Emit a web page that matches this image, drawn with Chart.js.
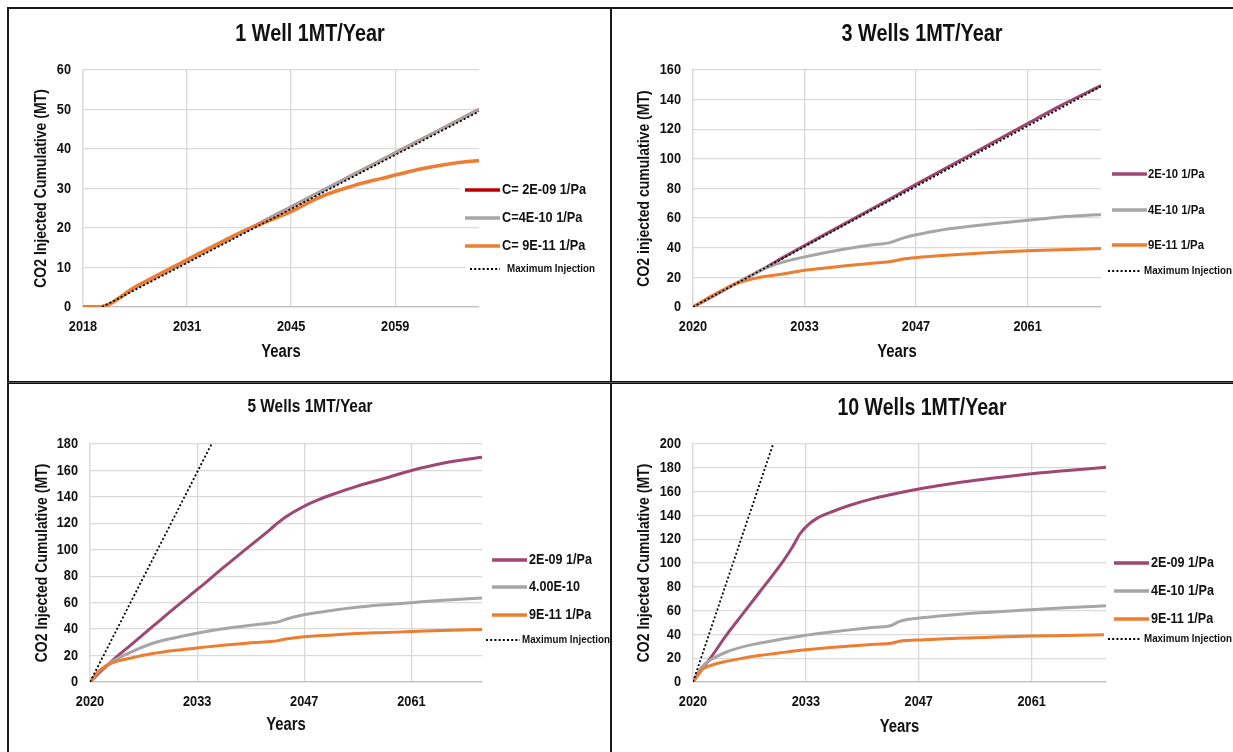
<!DOCTYPE html>
<html>
<head>
<meta charset="utf-8">
<script src="https://cdn.jsdelivr.net/npm/chart.js@4.4.0/dist/chart.umd.min.js"></script>
<style>
html, body { margin: 0; padding: 0; background: #fff; }
#page { position: relative; width: 1233px; height: 752px; overflow: hidden; background: #fff; }
canvas { position: absolute; }
.rule { position: absolute; background: #1a1a1a; }
</style>
</head>
<body>
<div id="page">
  <canvas id="c1" width="601" height="372" style="left:9px;top:9px"></canvas>
  <canvas id="c2" width="621" height="372" style="left:612px;top:9px"></canvas>
  <canvas id="c3" width="601" height="369" style="left:9px;top:383px"></canvas>
  <canvas id="c4" width="621" height="369" style="left:612px;top:383px"></canvas>
  <div class="rule" style="left:7px;top:7px;width:1226px;height:2px"></div>
  <div class="rule" style="left:7px;top:7px;width:2px;height:745px"></div>
  <div class="rule" style="left:610px;top:7px;width:2px;height:745px"></div>
  <div class="rule" style="left:7px;top:381px;width:1226px;height:3px;background:#555;border-top:1px solid #111;border-bottom:1px solid #111;box-sizing:border-box"></div>
</div>
<script>
// ---- 1 well ----
const years1 = [2018, 2020, 2025, 2030, 2035, 2040, 2043, 2045, 2048, 2050, 2053, 2056, 2059, 2062, 2065, 2068, 2070];
const w1_2e09 = [0, 0, 5, 10, 15, 20, 23, 25, 28, 30, 33, 36, 39, 42, 45, 48, 50];
const w1_4e10 = [0, 0, 5, 10, 15, 20, 23, 25, 28, 30, 33, 36, 39, 42, 45, 48, 50];
const w1_9e11 = [0, 0, 5.2, 10.3, 15.3, 20, 22.3, 23.9, 26.8, 28.5, 30.4, 32, 33.4, 34.8, 35.9, 36.7, 37.1];
const w1_maxYears = [2020.5, 2070];
const w1_max = [0, 49.5];
const w1_tickYears = [2018, 2031.67, 2045.33, 2059];
const w1_tickLabels = ['2018', '2031', '2045', '2059'];

// ---- 3 wells ----
const years3 = [2020, 2022, 2024, 2025, 2027, 2029, 2031, 2033, 2036, 2039, 2042, 2044, 2046, 2048, 2051, 2054, 2057, 2061, 2065, 2070];
const w3_2e10 = [0, 6, 12, 15, 21, 27, 33.3, 39.5, 48.5, 57.5, 66.5, 72.5, 78.7, 84.8, 93.8, 102.8, 111.8, 123.8, 135.8, 149.5];
const w3_4e10 = [0, 6.5, 12.5, 15.3, 21, 26.5, 30.3, 33, 36.5, 39.5, 42, 43.3, 47, 49.5, 52.5, 54.5, 56.3, 58.5, 60.8, 62.5];
const w3_9e11 = [0, 6.5, 12.5, 15.3, 18.6, 20.7, 22.3, 24.2, 26.2, 28, 29.5, 30.5, 32.5, 33.7, 35, 36, 36.9, 37.9, 38.7, 39.5];
const w3_maxYears = [2020, 2070];
const w3_max = [0, 149];
const w3_tickYears = [2020, 2033.67, 2047.33, 2061];
const w3_tickLabels = ['2020', '2033', '2047', '2061'];

// ---- 5 wells ----
const years5 = [2020, 2021, 2022, 2023, 2025, 2028, 2031, 2034, 2037, 2040, 2043, 2044, 2045, 2047, 2049, 2051, 2054, 2057, 2061, 2065, 2070];
const w5_2e09 = [0, 6, 11.5, 17, 27, 42, 57, 71.5, 86.5, 101, 115.5, 120.5, 125, 132, 137.5, 142, 148, 153, 160, 165.5, 170];
const w5_4e10 = [0, 7, 12, 16, 22, 29.3, 33.7, 37.3, 40.2, 42.6, 44.6, 45.5, 47.5, 50.5, 52.5, 54.3, 56.5, 58.2, 60, 61.8, 63.5];
const w5_9e11 = [0, 7.5, 12, 14.8, 17.8, 21.5, 24, 26, 27.8, 29.3, 30.6, 31.3, 32.5, 34, 34.9, 35.6, 36.6, 37.3, 38.1, 39, 39.8];
const w5_maxYears = [2020, 2035.5];
const w5_max = [0, 180];
const w5_tickYears = [2020, 2033.67, 2047.33, 2061];
const w5_tickLabels = ['2020', '2033', '2047', '2061'];

// ---- 10 wells ----
const years10 = [2020, 2021, 2022, 2024, 2026, 2028, 2030, 2031, 2032, 2033, 2034, 2035, 2037, 2039, 2042, 2044, 2045, 2048, 2052, 2056, 2061, 2065, 2070];
const w10_2e09 = [0, 10, 19, 39, 57, 75, 93, 102.5, 113, 125, 132.5, 137.5, 143.5, 148.5, 154.5, 157.5, 159, 163, 167.5, 171, 175, 177.5, 180.5];
const w10_4e10 = [0, 12, 18, 25, 29.5, 32.5, 35, 36.3, 37.4, 38.5, 39.6, 40.5, 42.2, 43.8, 46, 47.5, 51, 54.2, 56.8, 58.7, 60.8, 62.4, 64];
const w10_9e11 = [0, 10, 13.5, 17.3, 20, 22.2, 24, 24.9, 25.8, 26.6, 27.3, 28, 29.2, 30.2, 31.7, 32.6, 34.3, 35.5, 36.7, 37.6, 38.6, 39.1, 39.7];
const w10_maxYears = [2020, 2029.7];
const w10_max = [0, 200];
const w10_tickYears = [2020, 2033.67, 2047.33, 2061];
const w10_tickLabels = ['2020', '2033', '2047', '2061'];

const RED = '#C00000', GRAY = '#A6A6A6', ORANGE = '#ED7D31', PLUM = '#9E4770';
const FONT = '"Liberation Sans", Arial, sans-serif';
const K = 0.85; // horizontal squeeze, stands in for a narrow face
Chart.defaults.font.family = FONT;
Chart.defaults.color = '#000';

function pts(xs, ys) {
  return xs.map((x, i) => ({ x: x, y: ys[i] }));
}

// condensed bold text
function narrow(ctx, text, x, y, size, align, rot) {
  ctx.save();
  ctx.translate(x, y);
  if (rot) ctx.rotate(-Math.PI / 2);
  ctx.scale(K, 1);
  ctx.font = 'bold ' + size + 'px ' + FONT;
  ctx.textAlign = align;
  ctx.textBaseline = 'middle';
  ctx.fillStyle = '#111';
  ctx.fillText(text, 0, 0);
  ctx.restore();
}

function narrowWidth(ctx, text, size) {
  ctx.save();
  ctx.font = 'bold ' + size + 'px ' + FONT;
  const w = ctx.measureText(text).width * K;
  ctx.restore();
  return w;
}

// ticks, axis titles, chart title and legend
const decor = {
  id: 'decor',
  afterDraw(chart, args, o) {
    const ctx = chart.ctx;
    const a = chart.chartArea;
    const xs = chart.scales.x, ys = chart.scales.y;

    ys.ticks.forEach(t => {
      narrow(ctx, String(t.value), a.left - 12, ys.getPixelForValue(t.value), 15, 'right');
    });
    xs.ticks.forEach((t, i) => {
      narrow(ctx, o.tickLabels[i], xs.getPixelForValue(t.value), a.bottom + o.tickDy, 15, 'center');
    });
    narrow(ctx, 'Years', (a.left + a.right) / 2, o.xTitleY, 17.5, 'center');
    narrow(ctx, o.yTitle, o.yTitleX, (a.top + a.bottom) / 2, 16.5, 'center', true);
    narrow(ctx, o.title, o.titleX, o.titleY, o.titleSize, 'center');

    chart.data.datasets.forEach((ds, i) => {
      const y = o.rows[i];
      const dotted = !!ds.borderDash;
      const x0 = dotted ? o.dotX0 : o.lineX0;
      const x1 = dotted ? o.dotX1 : o.lineX1;
      const tx = dotted ? o.dotTextX : o.textX;
      const size = dotted ? o.smallSize : o.labelSize;
      const w = narrowWidth(ctx, ds.label, size);
      ctx.save();
      ctx.fillStyle = '#fff';
      ctx.fillRect(x0 - 4, y - 8, tx + w + 3 - (x0 - 4), 16);
      ctx.strokeStyle = ds.borderColor;
      ctx.lineWidth = dotted ? 1.8 : 3.5;
      ctx.setLineDash(dotted ? ds.borderDash : []);
      ctx.beginPath();
      ctx.moveTo(x0, y);
      ctx.lineTo(x1, y);
      ctx.stroke();
      ctx.restore();
      narrow(ctx, ds.label, tx, y, size, 'left');
    });
  }
};

function makePanel(p) {
  const ox = p.ox, oy = p.oy;
  const ctx = document.getElementById(p.id).getContext('2d');
  const lg = p.legend;
  return new Chart(ctx, {
    type: 'line',
    data: {
      datasets: [
        { label: p.labels[0], data: pts(p.years, p.s1), borderColor: p.colors[0], borderWidth: 3, order: 3 },
        { label: p.labels[1], data: pts(p.years, p.s2), borderColor: p.colors[1], borderWidth: 3, order: 2 },
        { label: p.labels[2], data: pts(p.years, p.s3), borderColor: p.colors[2], borderWidth: p.w3 || 3, order: 1 },
        { label: 'Maximum Injection', data: pts(p.maxYears, p.max), borderColor: '#000', borderWidth: 1.8, borderDash: [2, 2.2], order: 0 }
      ]
    },
    options: {
      responsive: false,
      animation: false,
      layout: { padding: { left: 0, top: p.area.t - oy, right: ox + p.w - p.area.r, bottom: 0 } },
      elements: {
        point: { radius: 0 },
        line: { cubicInterpolationMode: 'monotone', borderCapStyle: 'butt', fill: false }
      },
      plugins: {
        legend: { display: false },
        tooltip: { enabled: false },
        decor: {
          title: p.title, titleSize: p.titleSize, titleX: p.titleX - ox, titleY: p.titleY - oy,
          yTitle: p.yTitle, yTitleX: p.yTitleX - ox, xTitleY: p.xTitleY - oy,
          tickLabels: p.tickLabels, tickDy: p.tickDy,
          rows: lg.rows.map(r => r - oy),
          lineX0: lg.lineX0 - ox, lineX1: lg.lineX1 - ox, textX: lg.textX - ox,
          dotX0: lg.dotX0 - ox, dotX1: lg.dotX1 - ox, dotTextX: lg.dotTextX - ox,
          labelSize: lg.labelSize, smallSize: lg.smallSize
        }
      },
      scales: {
        x: {
          type: 'linear',
          min: p.xMin,
          max: p.xMax,
          afterBuildTicks: s => { s.ticks = p.tickYears.map(v => ({ value: v })); },
          afterFit: s => { s.height = oy + p.h - p.area.b; },
          ticks: { display: false },
          grid: { color: '#d9d9d9', lineWidth: 1.3, drawTicks: false },
          border: { color: '#bfbfbf', width: 1.3 }
        },
        y: {
          min: 0,
          max: p.yMax,
          afterFit: s => { s.width = p.area.l - ox; },
          ticks: { display: false, stepSize: p.yStep },
          grid: { color: '#d9d9d9', lineWidth: 1.3, drawTicks: false },
          border: { color: '#d9d9d9', width: 1.3 }
        }
      }
    },
    plugins: [decor]
  });
}

makePanel({
  id: 'c1', ox: 9, oy: 9, w: 601, h: 372,
  area: { l: 83, r: 479, t: 70, b: 307 },
  title: '1 Well 1MT/Year', titleSize: 23.3, titleX: 310, titleY: 35,
  yTitle: 'CO2 Injected Cumulative (MT)', yTitleX: 41, xTitleY: 352, tickDy: 19.5,
  xMin: 2018, xMax: 2070, yMax: 60, yStep: 10,
  tickYears: w1_tickYears, tickLabels: w1_tickLabels,
  years: years1, s1: w1_2e09, s2: w1_4e10, s3: w1_9e11, w3: 3.6,
  maxYears: w1_maxYears, max: w1_max,
  labels: ['C= 2E-09 1/Pa', 'C=4E-10 1/Pa', 'C= 9E-11 1/Pa'],
  colors: [RED, GRAY, ORANGE],
  legend: { rows: [190, 218, 246, 269], lineX0: 465, lineX1: 500, textX: 502,
            dotX0: 470, dotX1: 500, dotTextX: 507, labelSize: 15, smallSize: 11.5 }
});

makePanel({
  id: 'c2', ox: 612, oy: 9, w: 621, h: 372,
  area: { l: 693, r: 1101, t: 70, b: 307 },
  title: '3 Wells 1MT/Year', titleSize: 23.4, titleX: 922, titleY: 35,
  yTitle: 'CO2 injected cumulative (MT)', yTitleX: 644, xTitleY: 352, tickDy: 19.5,
  xMin: 2020, xMax: 2070, yMax: 160, yStep: 20,
  tickYears: w3_tickYears, tickLabels: w3_tickLabels,
  years: years3, s1: w3_2e10, s2: w3_4e10, s3: w3_9e11,
  maxYears: w3_maxYears, max: w3_max,
  labels: ['2E-10 1/Pa', '4E-10 1/Pa', '9E-11 1/Pa'],
  colors: [PLUM, GRAY, ORANGE],
  legend: { rows: [174, 210, 245, 271], lineX0: 1112, lineX1: 1147, textX: 1148,
            dotX0: 1108, dotX1: 1140, dotTextX: 1144, labelSize: 13.3, smallSize: 11.5 }
});

makePanel({
  id: 'c3', ox: 9, oy: 383, w: 601, h: 369,
  area: { l: 90, r: 482, t: 444, b: 682 },
  title: '5 Wells 1MT/Year', titleSize: 18.2, titleX: 310, titleY: 407,
  yTitle: 'CO2 Injected Cumulative (MT)', yTitleX: 42, xTitleY: 725, tickDy: 19.5,
  xMin: 2020, xMax: 2070, yMax: 180, yStep: 20,
  tickYears: w5_tickYears, tickLabels: w5_tickLabels,
  years: years5, s1: w5_2e09, s2: w5_4e10, s3: w5_9e11,
  maxYears: w5_maxYears, max: w5_max,
  labels: ['2E-09 1/Pa', '4.00E-10', '9E-11 1/Pa'],
  colors: [PLUM, GRAY, ORANGE],
  legend: { rows: [560, 587, 615, 640], lineX0: 492, lineX1: 527, textX: 529,
            dotX0: 486, dotX1: 520, dotTextX: 522, labelSize: 14.8, smallSize: 11.5 }
});

makePanel({
  id: 'c4', ox: 612, oy: 383, w: 621, h: 369,
  area: { l: 693, r: 1106, t: 444, b: 682 },
  title: '10 Wells 1MT/Year', titleSize: 23, titleX: 922, titleY: 409,
  yTitle: 'CO2 Injected Cumulative (MT)', yTitleX: 644, xTitleY: 727, tickDy: 20,
  xMin: 2020, xMax: 2070, yMax: 200, yStep: 20,
  tickYears: w10_tickYears, tickLabels: w10_tickLabels,
  years: years10, s1: w10_2e09, s2: w10_4e10, s3: w10_9e11,
  maxYears: w10_maxYears, max: w10_max,
  labels: ['2E-09 1/Pa', '4E-10 1/Pa', '9E-11 1/Pa'],
  colors: [PLUM, GRAY, ORANGE],
  legend: { rows: [563, 591, 619, 639], lineX0: 1114, lineX1: 1149, textX: 1151,
            dotX0: 1108, dotX1: 1140, dotTextX: 1144, labelSize: 14.8, smallSize: 11.5 }
});
</script>
</body>
</html>
